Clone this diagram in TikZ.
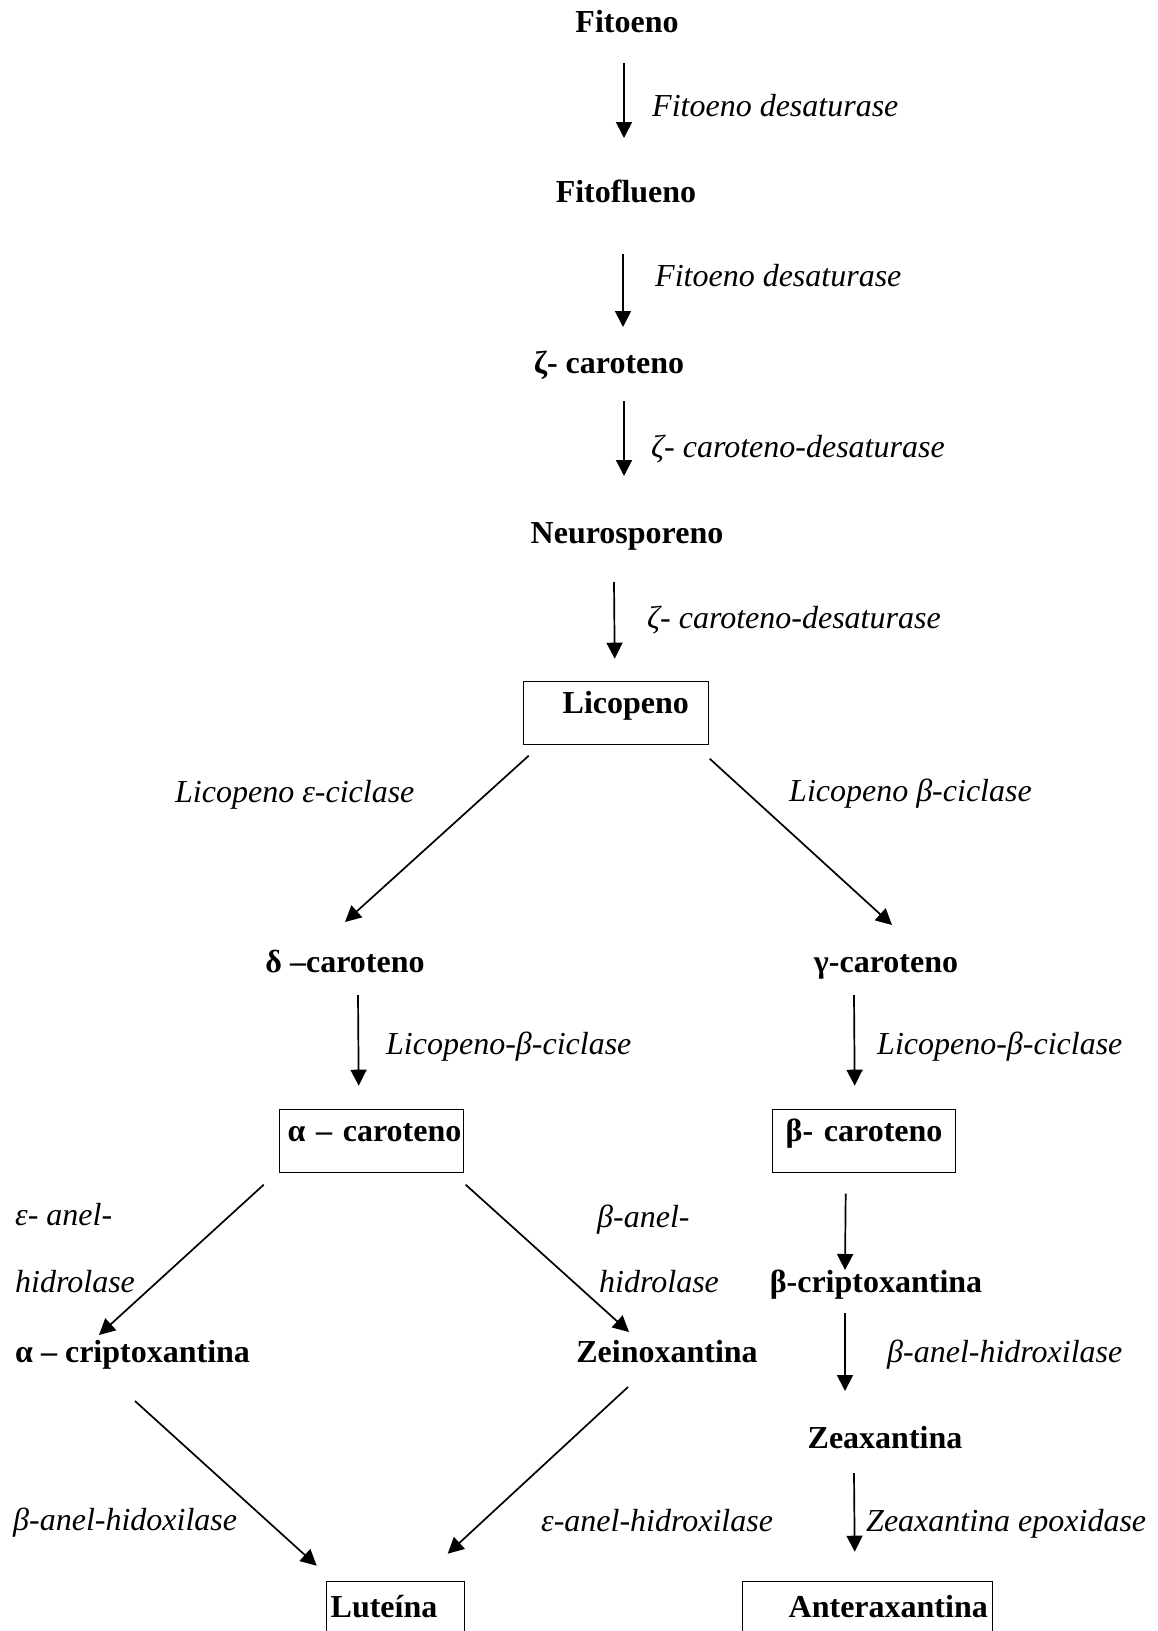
\documentclass[tikz,border=0pt]{standalone}
\usepackage{fontspec}
\setmainfont{Liberation Serif}
\usetikzlibrary{arrows.meta}

\begin{document}
\begin{tikzpicture}[x=1pt,y=-1pt,
    every node/.style={font=\fontsize{32}{38}\selectfont, inner sep=0pt},
    mol/.style={font=\fontsize{32}{38}\selectfont\bfseries, anchor=base},
    enz/.style={font=\fontsize{32}{38}\selectfont\itshape, anchor=base west},
    caixa/.style={mol, draw, line width=1.4pt, anchor=north west, inner ysep=4pt,
                  text height=28pt, text depth=27pt, align=left},
    seta/.style={line width=1.7pt, -{Triangle[length=16pt,width=16pt]}}]
          \useasboundingbox (0,0) rectangle (1157,1631);

          % carotenoides
          \foreach \x/\y/\n/\t in {627/32/fitoeno/Fitoeno, 626/202/fitoflueno/Fitoflueno,
              609/373/zeta/ζ- caroteno, 627/543/neuro/Neurosporeno,
              345/972/delta/δ –caroteno, 886/972/gama/γ-caroteno,
              667/1362/zeino/Zeinoxantina, 876/1292/bcripto/β-criptoxantina,
              885/1448/zeaxa/Zeaxantina}{%
            \node[mol] (\n) at (\x,\y) {\t};
          }
          \node[mol, anchor=base west] (acripto) at (15,1362) {α – criptoxantina};

          \node[caixa, inner xsep=39pt, text width=107pt] (licopeno) at (523,681) {Licopeno};
          \node[caixa, inner xsep=8pt, text width=168pt] (alfa) at (279,1109) {\mbox{α – caroteno}};
          \node[caixa, inner xsep=13pt, text width=157pt] (beta) at (772,1109) {\mbox{β- caroteno}};
          \node[caixa, inner xsep=4pt, text width=130pt, text height=32pt] (luteina) at (326,1581) {Luteína};
          \node[caixa, inner xsep=46pt, text width=158pt, text height=32pt] (antera) at (742,1581) {Anteraxantina};

          % enzimas
          \foreach \x/\y/\t [count=\i] in {652/116/Fitoeno desaturase, 655/286/Fitoeno desaturase,
              651/457/ζ- caroteno-desaturase, 647/628/ζ- caroteno-desaturase,
              175/802/Licopeno ε-ciclase, 789/801/Licopeno β-ciclase,
              386/1054/Licopeno-β-ciclase, 877/1054/Licopeno-β-ciclase,
              15/1225/ε- anel-, 15/1292/hidrolase, 597/1227/β-anel-, 599/1292/hidrolase,
              887/1362/β-anel-hidroxilase, 13/1530/β-anel-hidoxilase,
              541/1531/ε-anel-hidroxilase, 866/1531/Zeaxantina epoxidase}{%
            \node[enz] (enz\i) at (\x,\y) {\t};
          }

          % reacoes
          \foreach \a/\sa/\b/\sb in {fitoeno.base/{-3,31}/fitoflueno.base/{-2,-64},
              fitoflueno.base/{-3,52}/zeta.base/{14,-46},
              zeta.base/{15,28}/neuro.base/{-3,-67},
              neuro.base/{-13,39}/licopeno.base/{-1.5,-55},
              licopeno.base/{-87.5,42}/delta.base/{0,-50},
              licopeno.base/{93.5,45}/gama.base/{6,-47},
              delta.base/{13,23}/alfa.base/{-13,-56},
              gama.base/{-32,23}/beta.base/{-9.5,-56},
              alfa.base/{-108,43}/acripto.base west/{84,-27},
              alfa.base/{94,43}/zeino.base/{-38,-30},
              beta.base/{-18.5,52}/bcripto.base/{-31,-22},
              bcripto.base/{-31,21}/zeaxa.base/{-40,-57},
              zeaxa.base/{-31,25}/antera.base/{-13,-66},
              acripto.base west/{120,39}/luteina.base/{-79,-52},
              zeino.base/{-39,25}/luteina.base/{52,-64}}{%
            \draw[seta] ([shift={(\sa)}]\a) -- ([shift={(\sb)}]\b);
          }
        \end{tikzpicture}
\end{document}
